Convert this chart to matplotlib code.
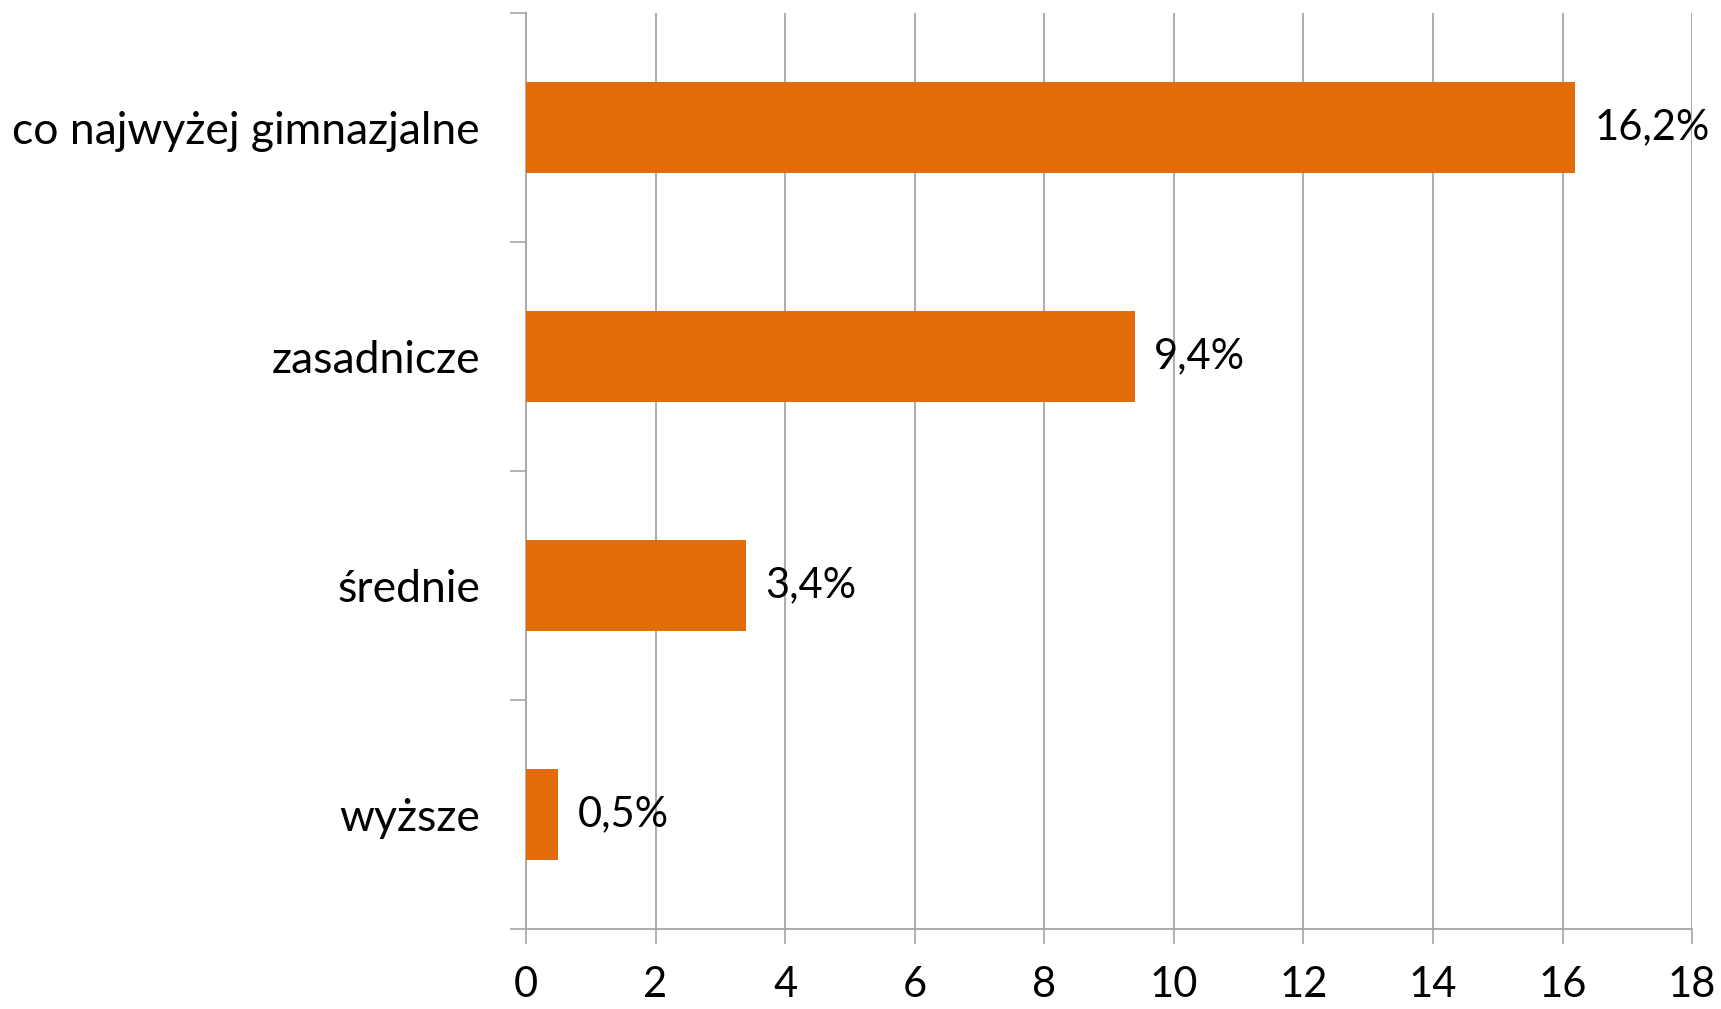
import matplotlib.pyplot as plt
import numpy as np

plt.rcParams['font.family'] = ['Lato', 'DejaVu Sans']

categories = ['co najwyżej gimnazjalne', 'zasadnicze', 'średnie', 'wyższe']
values = [16.2, 9.4, 3.4, 0.5]
labels = ['16,2%', '9,4%', '3,4%', '0,5%']
xticks = [0, 2, 4, 6, 8, 10, 12, 14, 16, 18]

BAR_COLOR = '#E36C0A'
GRID_COLOR = '#A6A6A6'

fig = plt.figure(figsize=(17.21, 10.09), dpi=100)
ax = fig.add_axes([0.3056, 0.0793, 0.6776, 0.9078])

y = np.arange(len(categories))
ax.barh(y, values, height=0.4, color=BAR_COLOR, zorder=3)

for yi, v, lab in zip(y, values, labels):
    ax.annotate(lab, (v, yi), xytext=(14, 0), textcoords='offset points',
                va='center', ha='left', fontsize=30, color='black')

ax.set_xlim(0, 18)
ax.set_ylim(len(categories) - 0.5, -0.5)
ax.set_xticks(xticks)
ax.set_xticklabels([str(t) for t in xticks], fontsize=30)

# category names centred on bars, tick marks on boundaries
ax.set_yticks(y)
ax.set_yticklabels(categories, fontsize=32)
ax.set_yticks(np.arange(-0.5, len(categories), 1.0), minor=True)
ax.tick_params(axis='y', which='major', length=0, pad=33)
ax.tick_params(axis='y', which='minor', length=11.5, width=1.2, color=GRID_COLOR)
ax.tick_params(axis='x', length=11, width=1.2, color=GRID_COLOR, pad=16)

ax.grid(axis='x', color=GRID_COLOR, linewidth=1.3, zorder=0)
ax.set_axisbelow(True)

for side in ['top', 'right']:
    ax.spines[side].set_visible(False)
for side in ['left', 'bottom']:
    ax.spines[side].set_color(GRID_COLOR)
    ax.spines[side].set_linewidth(1.3)

fig.savefig('out.png', dpi=100)
